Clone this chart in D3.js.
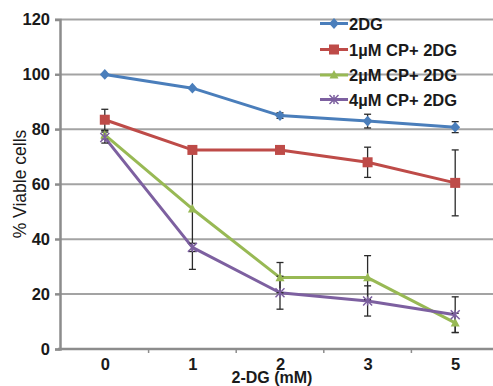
<!DOCTYPE html>
<html><head><meta charset="utf-8">
<script src="https://cdn.jsdelivr.net/npm/d3@7"></script>
<style>
html,body{margin:0;padding:0;background:#fff;}
svg{display:block;font-family:"Liberation Sans",Arial,sans-serif;}
</style></head>
<body><svg id="chart" width="493" height="386"></svg>
<script>
const categories = ["0","1","2","3","5"];
const yTicks = [0,20,40,60,80,100,120];
const seriesNames = ["2DG","1\u00b5M CP+ 2DG","2\u00b5M CP+ 2DG","4\u00b5M CP+ 2DG"];
const seriesColors = ["#4a7ebb","#be4b48","#98b954","#7d60a0"];
const seriesMarkers = ["diamond","square","triangle","cross"];
const v2DG   = [100, 95, 85, 83, 80.8];
const e2DG   = [0, 0, 1, 2.5, 2];
const v1uM   = [83.5, 72.5, 72.5, 68, 60.5];
const e1uM   = [3.8, 0, 0, 5.5, 12];
const v2uM   = [78, 51, 26, 26, 9.5];
const e2uM   = [1.5, 22, 5.5, 8, 3.5];
const v4uM   = [77, 37, 20.5, 17.5, 12.5];
const e4uM   = [2, 1.5, 6, 5.5, 6.5];
const seriesValues = [v2DG, v1uM, v2uM, v4uM];
const seriesErrors = [e2DG, e1uM, e2uM, e4uM];

const svg = d3.select("#chart");
const x = d3.scalePoint().domain(categories).range([61, 499]).padding(0.5);
const y = d3.scaleLinear().domain([0,120]).range([349, 19.5]);

// gridlines
svg.append("g").selectAll("line").data(yTicks.filter(d=>d>0)).join("line")
  .attr("x1",55).attr("x2",493).attr("y1",d=>y(d)).attr("y2",d=>y(d))
  .attr("stroke","#a3a3a3").attr("stroke-width",2);

// y axis
const ya = svg.append("g").attr("transform","translate(60,0)")
  .call(d3.axisLeft(y).tickValues(yTicks).tickSize(5).tickPadding(5));
ya.select(".domain").attr("stroke","#8c8c8c").attr("stroke-width",2.5);
ya.selectAll(".tick line").attr("stroke","#8c8c8c").attr("stroke-width",2);
ya.selectAll("text").attr("font-size",16.5).attr("font-weight","bold").attr("fill","#1a1a1a");

// x axis
const xa = svg.append("g").attr("transform","translate(0,349)")
  .call(d3.axisBottom(x).tickSize(0).tickPadding(9));
xa.select(".domain").attr("d","M58,0H493").attr("stroke","#8c8c8c").attr("stroke-width",2.5);
xa.selectAll("text").attr("font-size",16.5).attr("font-weight","bold").attr("fill","#1a1a1a");
const step = x.step();
xa.append("g").selectAll("line").data(categories).join("line")
  .attr("x1",d=>x(d)+step/2).attr("x2",d=>x(d)+step/2).attr("y1",0).attr("y2",4)
  .attr("stroke","#8c8c8c").attr("stroke-width",1.5);

// axis titles
svg.append("text").attr("transform","translate(26,184) rotate(-90)")
  .attr("text-anchor","middle").attr("font-size",17.5).attr("fill","#1a1a1a")
  .text("% Viable cells");
svg.append("text").attr("x",272).attr("y",383).attr("text-anchor","middle")
  .attr("font-size",16).attr("font-weight","bold").attr("fill","#1a1a1a")
  .text("2-DG (mM)");

function marker(g, type, color, size){
  const s = size;
  if(type==="diamond"){
    g.append("path").attr("d",`M0,${-s*0.6}L${s*0.55},0L0,${s*0.6}L${-s*0.55},0Z`).attr("fill",color);
  } else if(type==="square"){
    g.append("rect").attr("x",-s/2).attr("y",-s/2).attr("width",s).attr("height",s).attr("fill",color);
  } else if(type==="triangle"){
    g.append("path").attr("d",`M0,${-s*0.55}L${s*0.5},${s*0.4}L${-s*0.5},${s*0.4}Z`).attr("fill",color);
  } else {
    const h = s*0.5;
    g.append("path").attr("d",`M${-h},${-h}L${h},${h}M${-h},${h}L${h},${-h}M0,${-h}V${h}`)
      .attr("stroke",color).attr("stroke-width",1.5).attr("fill","none");
  }
}
const sizes = [9,10,9,9];

const line = d3.line().x((d,i)=>x(categories[i])).y(d=>y(d));
seriesValues.forEach((vals,k)=>{
  svg.append("path").datum(vals).attr("d",line).attr("fill","none")
    .attr("stroke",seriesColors[k]).attr("stroke-width",3).attr("stroke-linejoin","round");
});
// error bars
seriesValues.forEach((vals,k)=>{
  const g = svg.append("g").attr("stroke","#2a2a2a").attr("stroke-width",1.3);
  vals.forEach((v,i)=>{
    const e = seriesErrors[k][i];
    if(!e) return;
    const cx = x(categories[i]);
    g.append("line").attr("x1",cx).attr("x2",cx).attr("y1",y(v+e)).attr("y2",y(v-e));
    [v+e, v-e].forEach(t=>g.append("line").attr("x1",cx-3.5).attr("x2",cx+3.5).attr("y1",y(t)).attr("y2",y(t)));
  });
});
// markers
seriesValues.forEach((vals,k)=>{
  vals.forEach((v,i)=>{
    const g = svg.append("g").attr("transform",`translate(${x(categories[i])},${y(v)})`);
    marker(g, seriesMarkers[k], seriesColors[k], sizes[k]);
  });
});

// legend
const rowsY = [23.5, 49.5, 75, 99.5];
seriesNames.forEach((n,k)=>{
  const gy = rowsY[k];
  svg.append("line").attr("x1",320).attr("x2",348).attr("y1",gy).attr("y2",gy)
    .attr("stroke",seriesColors[k]).attr("stroke-width",3);
  const g = svg.append("g").attr("transform",`translate(334,${gy})`);
  marker(g, seriesMarkers[k], seriesColors[k], sizes[k]);
  svg.append("text").attr("x",349).attr("y",gy+6).attr("font-size",16.5)
    .attr("font-weight","bold").attr("fill","#1a1a1a").text(n);
});
</script></body></html>
